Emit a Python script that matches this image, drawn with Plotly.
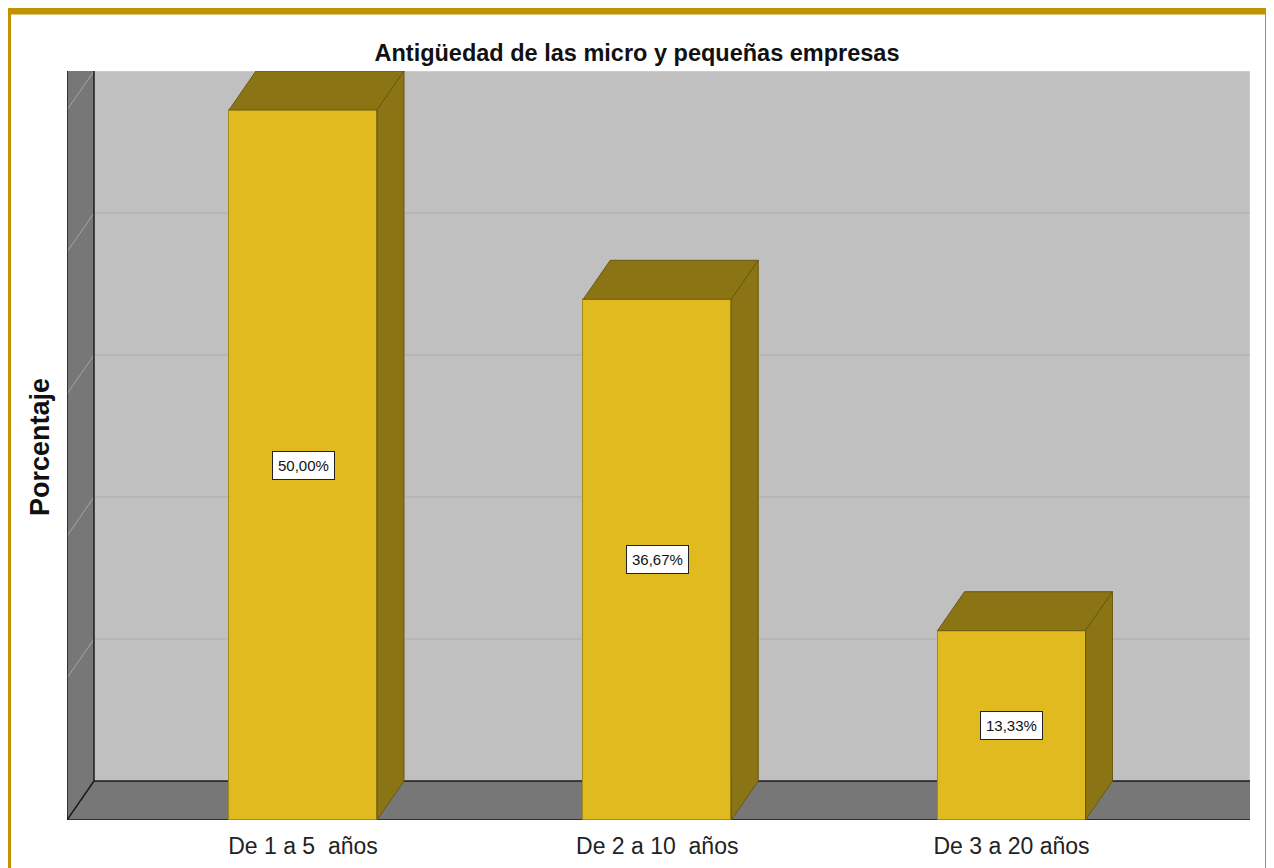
import plotly.graph_objects as go

# ---------------- data ----------------
categories = ["De 1 a 5  años", "De 2 a 10  años", "De 3 a 20 años"]
percentages = [50.00, 36.67, 13.33]
title_text = "Antigüedad de las micro y pequeñas empresas"
y_title = "Porcentaje"
grid_values = [10, 20, 30, 40, 50]

# ---------------- geometry (page pixels) ----------------
OFF = 8                               # default page body margin
FIG_W, FIG_H = 1274 - OFF, 868 - OFF
PL, PR, PB = 67 - OFF, 1250 - OFF, 820 - OFF   # plot left / right / bottom in figure px
PX_PER_PCT = 14.2
PX_PER_CAT = 354.25
FIRST_CAT_PX = 303 - OFF
BAR_PX = 148
DEPTH_X_PX, DEPTH_Y_PX = 27, 39

BW = BAR_PX / PX_PER_CAT
DX = DEPTH_X_PX / PX_PER_CAT
DY = DEPTH_Y_PX / PX_PER_PCT
YMAX = max(grid_values) + DY
PT = PB - YMAX * PX_PER_PCT
X0 = -(FIRST_CAT_PX - PL) / PX_PER_CAT
X1 = X0 + (PR - PL) / PX_PER_CAT

def paper_x(page_px):
    return (page_px - OFF - PL) / (PR - PL)

def paper_y(page_py):
    return (PB - (page_py - OFF)) / (PB - PT)

def poly(pts):
    return "M " + " L ".join(f"{x},{y}" for x, y in pts) + " Z"

FRONT = "#E0BA1F"
FRONT_EDGE = "#A48A16"
DARK_FACE = "#8A7414"
DARK_EDGE = "#6A590E"
WALL = "#C0C0C0"
SIDE_WALL = "#777777"
GRID = "#ABABAB"
FONT = "Liberation Sans, Arial, sans-serif"

shapes = []
# back wall
shapes.append(dict(type="rect", xref="x", yref="y", x0=X0 + DX, x1=X1, y0=DY, y1=YMAX,
                   fillcolor=WALL, line=dict(color="#D8D8D8", width=1), layer="below"))
for g in grid_values[:-1]:
    shapes.append(dict(type="line", xref="x", yref="y", x0=X0 + DX, x1=X1, y0=g + DY, y1=g + DY,
                       line=dict(color=GRID, width=1), layer="below"))
# left wall
shapes.append(dict(type="path", xref="x", yref="y",
                   path=poly([(X0, 0), (X0 + DX, DY), (X0 + DX, YMAX), (X0, YMAX)]),
                   fillcolor=SIDE_WALL, line=dict(width=0), layer="below"))
for g in grid_values:
    shapes.append(dict(type="line", xref="x", yref="y", x0=X0, x1=X0 + DX, y0=g, y1=g + DY,
                       line=dict(color="#A4A4A4", width=1), layer="below"))
shapes.append(dict(type="line", xref="x", yref="y", x0=X0, x1=X0, y0=0, y1=YMAX,
                   line=dict(color="#1A1A1A", width=1.5), layer="below"))
shapes.append(dict(type="line", xref="x", yref="y", x0=X0 + DX, x1=X0 + DX, y0=DY, y1=YMAX,
                   line=dict(color="#1A1A1A", width=1.5), layer="below"))
# floor
shapes.append(dict(type="path", xref="x", yref="y",
                   path=poly([(X0, 0), (X1, 0), (X1, DY), (X0 + DX, DY)]),
                   fillcolor=SIDE_WALL, line=dict(width=0), layer="below"))
shapes.append(dict(type="line", xref="x", yref="y", x0=X0, x1=X1, y0=0, y1=0,
                   line=dict(color="#1A1A1A", width=1.5), layer="below"))
shapes.append(dict(type="line", xref="x", yref="y", x0=X0 + DX, x1=X1, y0=DY, y1=DY,
                   line=dict(color="#1A1A1A", width=1.5), layer="below"))
shapes.append(dict(type="line", xref="x", yref="y", x0=X0, x1=X0 + DX, y0=0, y1=DY,
                   line=dict(color="#1A1A1A", width=1.5), layer="below"))

# bar top and side faces
for i, v in enumerate(percentages):
    l, r = i - BW / 2, i + BW / 2
    shapes.append(dict(type="path", xref="x", yref="y",
                       path=poly([(l, v), (r, v), (r + DX, v + DY), (l + DX, v + DY)]),
                       fillcolor=DARK_FACE, line=dict(color=DARK_EDGE, width=1), layer="above"))
    shapes.append(dict(type="path", xref="x", yref="y",
                       path=poly([(r, 0), (r + DX, DY), (r + DX, v + DY), (r, v)]),
                       fillcolor=DARK_FACE, line=dict(color=DARK_EDGE, width=1), layer="above"))

# gold frame
shapes.append(dict(type="rect", xref="paper", yref="paper",
                   x0=paper_x(7.5), x1=paper_x(1268.5), y0=paper_y(905), y1=paper_y(11),
                   fillcolor="rgba(0,0,0,0)", line=dict(color="#C29200", width=7), layer="above"))

fig = go.Figure()
fig.add_trace(go.Bar(
    x=list(range(len(categories))), y=percentages, width=BW,
    marker=dict(color=FRONT, line=dict(color=FRONT_EDGE, width=1)),
    hoverinfo="skip", showlegend=False,
))

annotations = []
for i, v in enumerate(percentages):
    annotations.append(dict(
        x=i, y=v / 2, xref="x", yref="y", showarrow=False,
        xanchor="center", yanchor="middle",
        text=f"{v:.2f}".replace(".", ",") + "%",
        font=dict(family=FONT, size=15, color="#111111"),
        bgcolor="white", bordercolor="#222222", borderwidth=1, borderpad=5,
    ))
annotations.append(dict(
    x=paper_x(40), y=paper_y(447), xref="paper", yref="paper", showarrow=False,
    xanchor="center", yanchor="middle",
    text=f"<b>{y_title}</b>", textangle=-90,
    font=dict(family=FONT, size=27, color="#111111"),
))

fig.update_layout(
    width=FIG_W, height=FIG_H,
    margin=dict(l=PL, r=FIG_W - PR, t=PT, b=FIG_H - PB, pad=0, autoexpand=False),
    paper_bgcolor="white", plot_bgcolor="white",
    title=dict(text=f"<b>{title_text}</b>", x=(637 - OFF) / FIG_W, xref="container",
               xanchor="center", y=1 - (53 - OFF) / FIG_H, yref="container", yanchor="middle",
               font=dict(family=FONT, size=23.5, color="#111111")),
    shapes=shapes, annotations=annotations,
    xaxis=dict(range=[X0, X1], tickvals=list(range(len(categories))), ticktext=categories,
               showgrid=False, zeroline=False, showline=False, ticks="", automargin=False,
               tickfont=dict(family=FONT, size=23, color="#222222"), ticklabelstandoff=10,
               fixedrange=True),
    yaxis=dict(range=[0, YMAX], showgrid=False, zeroline=False, showline=False,
               showticklabels=False, ticks="", automargin=False, fixedrange=True),
    bargap=0,
)

fig.write_html("out.html")
